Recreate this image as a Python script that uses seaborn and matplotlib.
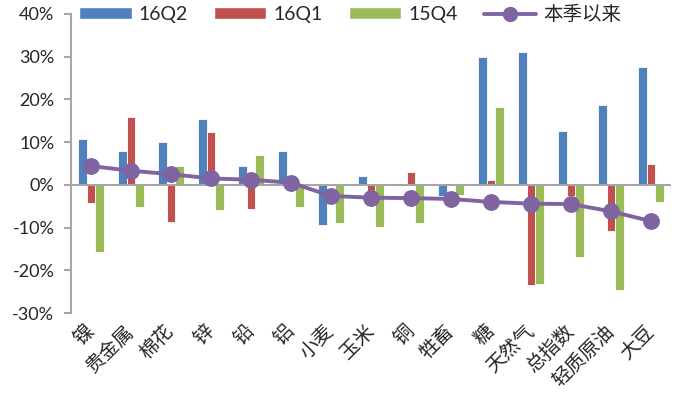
import numpy as np
import pandas as pd
import matplotlib
matplotlib.use("Agg")
import matplotlib.pyplot as plt
import seaborn as sns
from matplotlib.patches import Patch
from matplotlib.lines import Line2D

categories = ["镍", "贵金属", "棉花", "锌", "铅", "铝", "小麦", "玉米", "铜", "牲畜",
              "糖", "天然气", "总指数", "轻质原油", "大豆"]
q2_16 = [10.8, 8.0, 10.1, 15.5, 4.5, 8.0, -9.5, 2.1, 0.0, -2.7, 29.9, 31.0, 12.5, 18.8, 27.7]
q1_16 = [-4.3, 15.9, -8.7, 12.4, -5.6, 0.0, 0.0, -2.0, 3.1, 0.0, 1.2, -23.5, -2.7, -10.9, 4.8]
q4_15 = [-15.8, -5.1, 4.4, -6.0, 6.9, -5.1, -9.0, -9.8, -8.9, -2.3, 18.3, -23.1, -16.9, -24.6, -4.1]
since_q = [4.4, 3.3, 2.5, 1.5, 1.2, 0.5, -2.6, -3.0, -3.1, -3.3, -4.0, -4.4, -4.5, -6.2, -8.5]

series = ["16Q2", "16Q1", "15Q4"]
colors = ["#4F81BD", "#C0504D", "#9BBB59"]
line_color = "#8064A2"

df = pd.DataFrame({
    "cat": categories * 3,
    "series": [s for s in series for _ in categories],
    "value": q2_16 + q1_16 + q4_15,
})
line_df = pd.DataFrame({"cat": categories, "value": since_q})

sns.set_style("white")
plt.rcParams['font.family'] = ['Lato', 'Noto Sans CJK SC', 'DejaVu Sans']

fig = plt.figure(figsize=(6.94, 3.94), dpi=100)
ax = fig.add_axes([71 / 694, (394 - 313) / 394, 600 / 694, 299 / 394])

sns.barplot(data=df, x="cat", y="value", hue="series", order=categories,
            hue_order=series, palette=colors, saturation=1, width=0.66, gap=0,
            edgecolor="white", linewidth=0.6, ax=ax, legend=False)

ax.axhline(0, color="#A6A6A6", lw=1.5, zorder=2)

sns.pointplot(data=line_df, x="cat", y="value", order=categories, color=line_color,
              markers="o", markersize=10, linewidth=2.8, ax=ax, zorder=5)

ax.set_ylim(-30, 40)
ax.set_xlim(-0.5, len(categories) - 0.5)
ax.set_yticks(np.arange(-30, 41, 10))
ax.set_yticklabels([f"{v}%" for v in range(-30, 41, 10)], fontsize=13)
ax.set_xlabel("")
ax.set_ylabel("")

for s in ["top", "right", "bottom"]:
    ax.spines[s].set_visible(False)
ax.spines["left"].set_color("#A6A6A6")
ax.spines["left"].set_linewidth(1.5)
ax.tick_params(axis="y", direction="out", length=5, width=1.5, color="#A6A6A6", pad=7, left=True)
ax.tick_params(axis="x", length=0, pad=11)
for lab in ax.get_xticklabels():
    lab.set_rotation(45)
    lab.set_ha("right")
    lab.set_va("center")
    lab.set_rotation_mode("anchor")
    lab.set_fontsize(14)
    lab.set_family(["Noto Sans CJK SC", "DejaVu Sans"])

handles = [Patch(facecolor=c, label=s) for s, c in zip(series, colors)]
handles.append(Line2D([0], [0], color=line_color, lw=2.8, marker="o", markersize=10, label="本季以来"))
fig.legend(handles=handles, loc="center", bbox_to_anchor=(350 / 694, 1 - 14 / 394), ncol=4,
           frameon=False, fontsize=14, handlelength=2.7, handleheight=0.6,
           columnspacing=1.35, handletextpad=0.35)

fig.savefig("out.png", dpi=100)
